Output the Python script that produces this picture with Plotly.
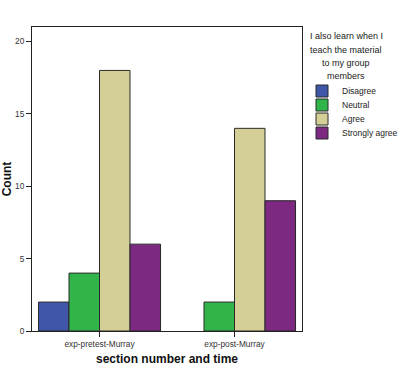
import plotly.graph_objects as go

categories = ["exp-pretest-Murray", "exp-post-Murray"]
series_names = ["Disagree", "Neutral", "Agree", "Strongly agree"]
disagree = [2, None]
neutral = [4, 2]
agree = [18, 14]
strongly_agree = [6, 9]
colors = ["#3F56A9", "#31B54B", "#D4CF97", "#7D2881"]
y_ticks = [0, 5, 10, 15, 20]
legend_title_lines = ["I also learn when I", "teach the material", "to my group", "members"]

values = [disagree, neutral, agree, strongly_agree]
W, H = 399, 367
ML, MR, MT, MB = 32, 92, 27, 36
legend_ids = ["legend", "legend2", "legend3", "legend4"]
legend_rows = [91, 105, 119, 133]
title_rows = [36, 50, 63, 76.5]

fig = go.Figure()
for name, vals, col, lid in zip(series_names, values, colors, legend_ids):
    fig.add_trace(go.Bar(
        x=categories, y=vals, name=name, legend=lid,
        marker=dict(color=col, line=dict(color="#2a2a2a", width=1)),
    ))

font_family = "Liberation Sans, Arial, sans-serif"
layout_legends = {}
for lid, row in zip(legend_ids, legend_rows):
    layout_legends[lid] = dict(
        xref="container", yref="container",
        x=302 / W, xanchor="left", y=1 - row / H, yanchor="middle",
        font=dict(size=8.5, color="#222222", family=font_family),
        itemwidth=30, bgcolor="rgba(0,0,0,0)", borderwidth=0,
    )

annotations = [
    dict(text=line, xref="paper", yref="paper",
         x=(352 - ML) / (W - ML - MR), y=(H - MB - row) / (H - MT - MB),
         xanchor="center", yanchor="middle", align="center", showarrow=False,
         font=dict(size=9, color="#222222", family=font_family))
    for line, row in zip(legend_title_lines, title_rows)
]

fig.update_layout(
    width=W, height=H,
    margin=dict(l=ML, r=MR, t=MT, b=MB),
    paper_bgcolor="white", plot_bgcolor="white",
    barmode="group", bargap=0.096, bargroupgap=0,
    font=dict(family=font_family, size=9, color="#222222"),
    showlegend=True,
    xaxis=dict(
        range=[-0.5, 1.5], automargin=False,
        showline=True, linecolor="#222222", linewidth=1, mirror=True,
        ticks="outside", ticklen=5, tickcolor="#222222",
        tickfont=dict(size=8.3, color="#333333"),
        title=dict(text="<b>section number and time</b>", font=dict(size=12, color="#111111"), standoff=6),
        showgrid=False,
    ),
    yaxis=dict(
        range=[0, 21], automargin=False,
        tickvals=y_ticks,
        showline=True, linecolor="#222222", linewidth=1, mirror=True,
        ticks="outside", ticklen=5, tickcolor="#222222",
        tickfont=dict(size=8.3, color="#333333"),
        title=dict(text="<b>Count</b>", font=dict(size=12, color="#111111"), standoff=4),
        showgrid=False, zeroline=False,
    ),
    annotations=annotations,
    **layout_legends,
)

fig.write_html("out.html")
